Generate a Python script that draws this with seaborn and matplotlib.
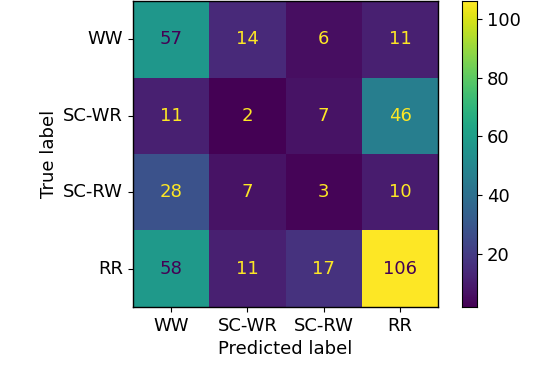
import seaborn as sns
import matplotlib.pyplot as plt
import numpy as np
import pandas as pd

# 类别标签
labels = ['WW', 'SC-WR', 'SC-RW', 'RR']

# 混淆矩阵 (行: 真实, 列: 预测)
row_ww = [57, 14, 6, 11]
row_scwr = [11, 2, 7, 46]
row_scrw = [28, 7, 3, 10]
row_rr = [58, 11, 17, 106]

cm = pd.DataFrame([row_ww, row_scwr, row_scrw, row_rr], index=labels, columns=labels)

fs = 13
plt.rcParams['font.size'] = fs

fig = plt.figure(figsize=(5.54, 3.9), dpi=100)
ax = fig.add_axes([0.240, 0.213, 0.551, 0.784])
cax = fig.add_axes([0.834, 0.213, 0.027, 0.784])

cmap = plt.get_cmap('viridis')
sns.heatmap(cm, ax=ax, cbar_ax=cax, cmap=cmap, annot=True, fmt='d',
            annot_kws={'fontsize': fs}, square=False)

# 文字颜色: 与 sklearn 一样按阈值切换
vmin, vmax = cm.values.min(), cm.values.max()
thresh = (vmin + vmax) / 2.0
for txt, val in zip(ax.texts, cm.values.flatten()):
    txt.set_color(cmap(0.0) if val > thresh else cmap(1.0))

for s in ax.spines.values():
    s.set_visible(True)
    s.set_color('black')
    s.set_linewidth(1.0)
cax.set_frame_on(True)
for s in cax.spines.values():
    s.set_visible(True)
    s.set_color('black')

ax.set_xlabel('Predicted label', fontsize=fs)
ax.set_ylabel('True label', fontsize=fs)
ax.tick_params(axis='both', labelsize=fs, length=3.5)
ax.set_yticklabels(labels, rotation=0)
ax.set_xticklabels(labels, rotation=0)
cax.set_yticks([20, 40, 60, 80, 100])
cax.tick_params(labelsize=fs, length=3.5)

fig.savefig('out.png', dpi=100)
